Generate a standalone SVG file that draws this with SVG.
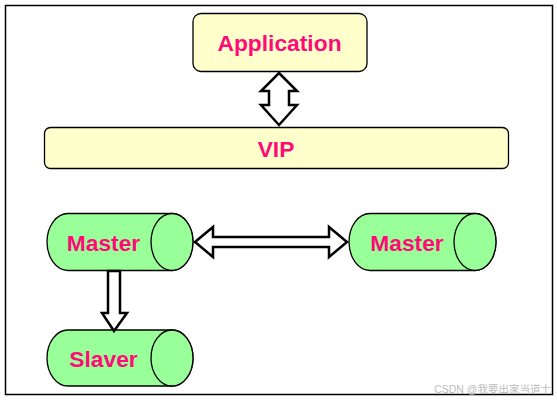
<svg xmlns="http://www.w3.org/2000/svg" width="557" height="401" viewBox="0 0 557 401">
<style>
.box{fill:#FFFFCC;stroke:#000;stroke-width:1.3}
.cyl{fill:#99FF99;stroke:#000;stroke-width:1.3}
.lbl{font-family:"Liberation Sans",Arial,sans-serif;font-weight:bold;font-size:22.8px;fill:#FF0A78;text-anchor:middle}
.arr{fill:#fff;stroke:#000;stroke-width:2.5;stroke-linejoin:miter}
.wm{font-family:"Liberation Sans","Noto Sans CJK SC",sans-serif;font-size:10.5px;fill:#bdbdbd;text-anchor:end}
</style>
<rect width="557" height="401" fill="#fff"/>
<rect x="5.5" y="5.5" width="547" height="389" fill="none" stroke="#000" stroke-width="1.5"/>
<g id="application">
<rect class="box" x="193" y="13.5" width="174" height="58" rx="8"/>
<text class="lbl" x="279.5" y="51">Application</text>
</g>
<g id="vip">
<rect class="box" x="44.5" y="127.5" width="464" height="41" rx="6"/>
<text class="lbl" x="276" y="157">VIP</text>
</g>
<g id="master1">
<path class="cyl" d="M68,213.5 H172 A21,28.5 0 0 1 172,270.5 H68 A21,28.5 0 0 1 68,213.5 Z"/>
<ellipse class="cyl" cx="172" cy="242" rx="21" ry="28.5"/>
<text class="lbl" x="103.5" y="251">Master</text>
</g>
<g id="master2">
<path class="cyl" d="M370,213.5 H475 A21,28.5 0 0 1 475,270.5 H370 A21,28.5 0 0 1 370,213.5 Z"/>
<ellipse class="cyl" cx="475" cy="242" rx="21" ry="28.5"/>
<text class="lbl" x="407" y="251">Master</text>
</g>
<g id="slaver">
<path class="cyl" d="M68,330 H172 A21,28 0 0 1 172,386 H68 A21,28 0 0 1 68,330 Z"/>
<ellipse class="cyl" cx="172" cy="358" rx="21" ry="28"/>
<text class="lbl" x="103.5" y="367">Slaver</text>
</g>
<g id="connectors">
<path class="arr" d="M279,73 L297,91 H289 V105 H297 L279,125 L261,105 H269 V91 H261 Z"/>
<path class="arr" d="M195,242 L213,227 V237 H329 V227 L347,242 L329,257 V247 H213 V257 Z"/>
<path class="arr" d="M108,271 H120 V313 H127 L114,331 L102,313 H108 Z"/>
</g>
<text class="wm" x="551" y="393">CSDN @我要出家当道士</text>
</svg>
